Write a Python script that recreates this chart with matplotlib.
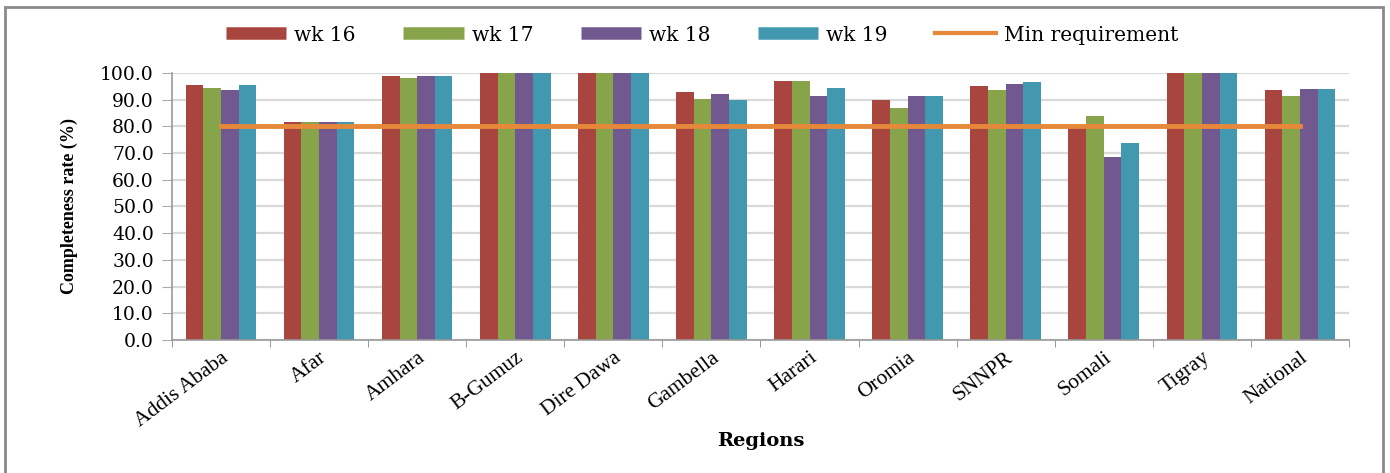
import matplotlib
matplotlib.use('Agg')
import matplotlib.pyplot as plt
from matplotlib.lines import Line2D
from matplotlib.patches import Rectangle
import numpy as np

regions = ['Addis Ababa', 'Afar', 'Amhara', 'B-Gumuz', 'Dire Dawa', 'Gambella',
           'Harari', 'Oromia', 'SNNPR', 'Somali', 'Tigray', 'National']
wk16 = [95.4, 81.6, 98.9, 100.0, 100.0, 92.9, 97.0, 89.9, 95.3, 79.8, 100.0, 93.5]
wk17 = [94.3, 81.6, 98.2, 100.0, 100.0, 90.4, 97.0, 86.8, 93.5, 83.8, 100.0, 91.4]
wk18 = [93.6, 81.6, 98.9, 100.0, 100.0, 92.0, 91.4, 91.4, 95.9, 68.4, 100.0, 93.9]
wk19 = [95.4, 81.6, 98.9, 100.0, 100.0, 89.9, 94.3, 91.4, 96.5, 73.9, 100.0, 93.9]
min_req = [80.0] * len(regions)

series = [('wk 16', wk16, '#A9453F'),
          ('wk 17', wk17, '#88A44B'),
          ('wk 18', wk18, '#71588F'),
          ('wk 19', wk19, '#4198AF')]
orange = '#E6883A'

fig = plt.figure(figsize=(13.9, 4.73), dpi=100)
ax = fig.add_axes([0.1237, 0.2812, 0.8468, 0.5645])

x = np.arange(len(regions))
w = 0.18
for i, (name, vals, col) in enumerate(series):
    ax.bar(x + (i - 1.5) * w, vals, w, color=col, zorder=2)
ax.plot(x, min_req, color=orange, lw=3.5, zorder=3)

ax.set_xlim(-0.5, len(regions) - 0.5)
ax.set_ylim(0, 100)
ax.set_yticks(np.arange(0, 101, 10))
ax.set_yticklabels([f'{v:.1f}' for v in np.arange(0, 101, 10)],
                   family='DejaVu Serif', fontsize=13.5)
ax.yaxis.grid(True, color='#D9D9D9', lw=1.6, zorder=0)
ax.set_axisbelow(True)

ax.set_xticks(x)
ax.set_xticklabels(regions, rotation=37, ha='right', rotation_mode='anchor',
                   family='Liberation Serif', fontsize=15.5)
ax.set_xticks(np.arange(-0.5, len(regions), 1), minor=True)
ax.tick_params(axis='x', which='major', length=0, pad=6)
ax.tick_params(axis='x', which='minor', length=5, color='#888888')
ax.tick_params(axis='y', length=7, color='#AAAAAA', pad=6)

for s in ['top', 'right']:
    ax.spines[s].set_visible(False)
for s in ['left', 'bottom']:
    ax.spines[s].set_color('#999999')
    ax.spines[s].set_linewidth(1.2)

ax.set_ylabel('Completeness rate (%)', family='Liberation Serif', fontsize=13,
              fontweight='bold', labelpad=16, fontstretch='condensed')
fig.text(0.547, 0.068, 'Regions', family='DejaVu Serif', fontsize=14,
         fontweight='bold', ha='center', va='center')

handles = [Line2D([], [], color=c, lw=9, solid_capstyle='butt') for _, _, c in series]
handles.append(Line2D([], [], color=orange, lw=3))
labels = [s[0] for s in series] + ['Min requirement']
fig.legend(handles, labels, loc='center', bbox_to_anchor=(0.505, 0.926), ncol=5,
           frameon=False, handlelength=3.0, columnspacing=2.35, handletextpad=0.4,
           prop={'family': 'DejaVu Serif', 'size': 14.5})

# grey frame around the chart area
fig.patches.append(Rectangle((5 / 1390, -0.05), 1378 / 1390, 1.05 - 7 / 473,
                             transform=fig.transFigure, fill=False,
                             edgecolor='#8A8A8A', lw=2))

fig.savefig('out.png', dpi=100, facecolor='white')
